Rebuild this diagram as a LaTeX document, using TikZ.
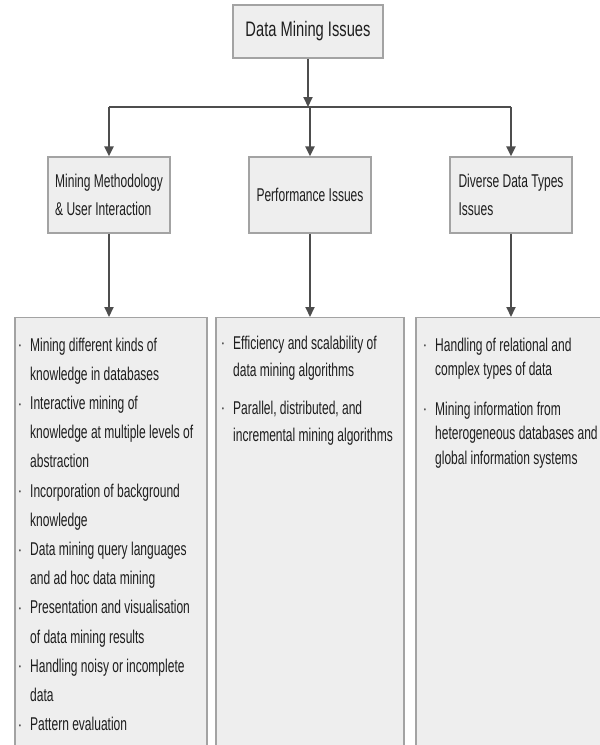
\documentclass[tikz,border=0pt]{standalone}
\usepackage{fontspec}
\setmainfont{Liberation Sans}[FakeStretch=0.65]
\newfontfamily\titlefont{Liberation Sans}[FakeStretch=0.70]
\usetikzlibrary{arrows, arrows.meta}

\definecolor{boxfill}{HTML}{EEEEEE}
\definecolor{boxline}{HTML}{A3A3A3}
\definecolor{arrowcol}{HTML}{4D4D4D}
\definecolor{textcol}{HTML}{1E1E1E}

\newcommand{\itembul}{\makebox[11pt][l]{\raisebox{2.5pt}{\fontsize{8}{8}\selectfont\textbullet}}}
\newcommand{\itemind}{\hspace*{11pt}}

\begin{document}
\begin{tikzpicture}[x=1pt, y=-1pt,
  issuebox/.style={draw=boxline, fill=boxfill, line width=1.2pt, text=textcol},
  headbox/.style={issuebox, minimum width=122pt, minimum height=76pt, align=left, font=\fontsize{18.5}{28}\selectfont},
  listbox/.style={issuebox, anchor=north, minimum height=460pt},
  listtext/.style={anchor=north west, inner sep=0pt, align=left, text=textcol},
  conn/.style={draw=arrowcol, line width=2pt, -{Triangle[length=10pt, width=9pt]}},
  busline/.style={draw=arrowcol, line width=2pt}]
\useasboundingbox (0,0) rectangle (600,745);
\clip (0,0) rectangle (600,745);

\node[issuebox, minimum width=150pt, minimum height=53pt, font=\titlefont\fontsize{21}{24}\selectfont] (dmi) at (308,31.5) {Data Mining Issues};
\coordinate (split) at (308,107);

\node[headbox] (mmui) at (109,195) {Mining Methodology\\\& User Interaction};
\node[headbox] (perf) at (310,195) {Performance Issues};
\node[headbox] (ddti) at (511,195) {Diverse Data Types\\Issues};

\node[listbox, minimum width=192pt] (mmui-list) at (111,317) {};
\node[listbox, minimum width=188pt] (perf-list) at (310,317) {};
\node[listbox, minimum width=188pt] (ddti-list) at (510,317) {};

% arrows
\draw[conn] (dmi) -- (split);
\draw[busline] (mmui.north |- split) -- (ddti.north |- split);
\foreach \n in {mmui, perf, ddti} {
  \draw[conn] (\n.north |- split) -- (\n);
  \draw[conn] (\n) -- (\n.south |- \n-list.north);
}

% lists
\node[listtext, font=\fontsize{18.5}{29.2}\selectfont] (mmui-text) at (19,337.5) {\itembul Mining different kinds of\\\itemind knowledge in databases\\\itembul Interactive mining of\\\itemind knowledge at multiple levels of\\\itemind abstraction\\\itembul Incorporation of background\\\itemind knowledge\\\itembul Data mining query languages\\\itemind and ad hoc data mining\\\itembul Presentation and visualisation\\\itemind of data mining results\\\itembul Handling noisy or incomplete\\\itemind data\\\itembul Pattern evaluation};
\node[listtext, font=\fontsize{18.5}{27}\selectfont] (perf-text) at (222,335.5) {\itembul Efficiency and scalability of\\\itemind data mining algorithms\\[11pt]\itembul Parallel, distributed, and\\\itemind incremental mining algorithms};
\node[listtext, font=\fontsize{18.5}{24.5}\selectfont] (ddti-text) at (424,337.5) {\itembul Handling of relational and\\\itemind complex types of data\\[15pt]\itembul Mining information from\\\itemind heterogeneous databases and\\\itemind global information systems};
\end{tikzpicture}
\end{document}
